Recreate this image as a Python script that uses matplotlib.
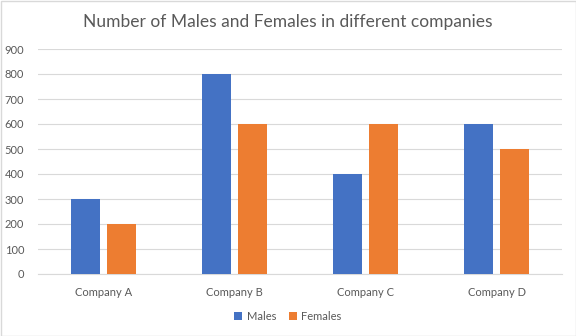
import numpy as np
import matplotlib.pyplot as plt
from matplotlib.patches import Rectangle

companies = ['Company A', 'Company B', 'Company C', 'Company D']
males = [300, 800, 400, 600]
females = [200, 600, 600, 500]
yticks = list(range(0, 1000, 100))

plt.rcParams['font.family'] = ['Lato', 'DejaVu Sans']

fig = plt.figure(figsize=(5.76, 3.36), dpi=100)
ax = fig.add_axes([38 / 576, 1 - 274 / 336, (562 - 38) / 576, (274 - 49) / 336])

x = np.arange(len(companies))
w = 0.22
gap = 0.06
ax.bar(x - (w + gap) / 2, males, w, color='#4472C4', label='Males', zorder=3)
ax.bar(x + (w + gap) / 2, females, w, color='#ED7D31', label='Females', zorder=3)

ax.set_xlim(-0.5, len(companies) - 0.5)
ax.set_ylim(0, 900)
ax.set_yticks(yticks)
ax.set_xticks(x)
ax.set_xticklabels(companies)
ax.tick_params(axis='both', length=0, labelsize=8, colors='#595959')
ax.tick_params(axis='x', pad=9)
ax.tick_params(axis='y', pad=10)
ax.grid(axis='y', color='#D9D9D9', linewidth=0.8, zorder=0)
for s in ['top', 'right', 'left']:
    ax.spines[s].set_visible(False)
ax.spines['bottom'].set_color('#D9D9D9')

fig.text(0.5, 1 - 22 / 336, 'Number of Males and Females in different companies',
         ha='center', va='center', fontsize=12.5, color='#595959')

fig.legend(loc='center', bbox_to_anchor=(0.5, 1 - 316 / 336), ncol=2, frameon=False,
           fontsize=8, handlelength=0.7, handleheight=0.7, handletextpad=0.4,
           columnspacing=1.2, labelcolor='#595959')

fig.patches.append(Rectangle((0.5 / 576, 0.5 / 336), 575 / 576, 335 / 336, transform=fig.transFigure,
                             fill=False, edgecolor='#D9D9D9', linewidth=1))

fig.savefig('out.png', dpi=100)
